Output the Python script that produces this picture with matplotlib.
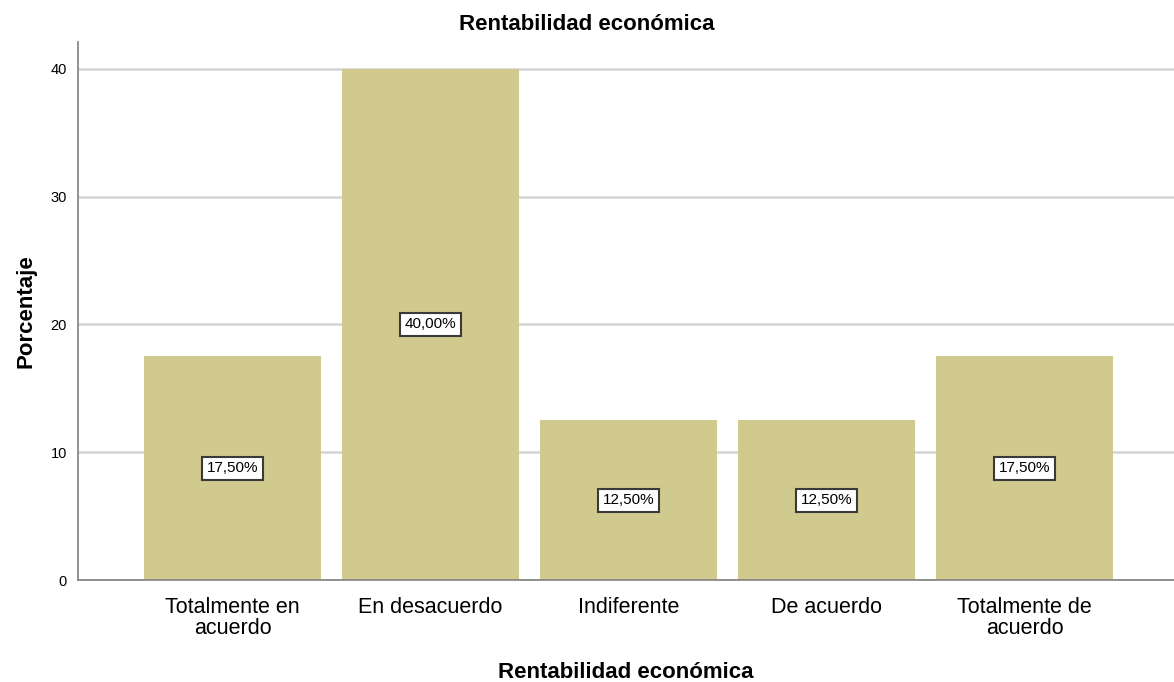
import numpy as np
import matplotlib.pyplot as plt

plt.rcParams['font.family'] = ['Liberation Sans', 'DejaVu Sans']

# datos del grafico
categorias = ["Totalmente en\nacuerdo", "En desacuerdo", "Indiferente", "De acuerdo", "Totalmente de\nacuerdo"]
porcentajes = [17.5, 40.0, 12.5, 12.5, 17.5]
etiquetas = ["17,50%", "40,00%", "12,50%", "12,50%", "17,50%"]

fig = plt.figure(figsize=(11.74, 6.82), dpi=100)
ax = fig.add_axes([78/1174, 1-580/682, 1-78/1174, (580-42)/682])

x = np.arange(len(categorias))
ax.bar(x, porcentajes, width=0.894, color="#D0CA8F", zorder=2)

for xi, v, t in zip(x, porcentajes, etiquetas):
    ax.text(xi, v/2, t, ha="center", va="center", fontsize=11, zorder=3,
            bbox=dict(boxstyle="square,pad=0.3", fc="white", ec="#3a3a3a", lw=1.5))

ax.set_xlim(-0.78, 4.755)
ax.set_ylim(0, 42.1)
ax.set_yticks([0, 10, 20, 30, 40])
ax.set_xticks(x)
ax.set_xticklabels(categorias, fontsize=15.5, linespacing=1.05)
ax.tick_params(axis="x", length=0, pad=12)
ax.tick_params(axis="y", length=0, pad=8, labelsize=10.5)
ax.yaxis.grid(True, color="#d4d4d4", lw=1.8, zorder=0)

for s in ["top", "right"]:
    ax.spines[s].set_visible(False)
for s in ["left", "bottom"]:
    ax.spines[s].set_color("#808080")
    ax.spines[s].set_linewidth(1.2)

fig.text(0.5, 1-25/682, "Rentabilidad económica", ha="center", va="center",
         fontsize=16, fontweight="bold")
ax.set_xlabel("Rentabilidad económica", fontsize=16, fontweight="bold", labelpad=16)
ax.set_ylabel("Porcentaje", fontsize=16, fontweight="bold", labelpad=10)

fig.savefig("out.png", dpi=100)
